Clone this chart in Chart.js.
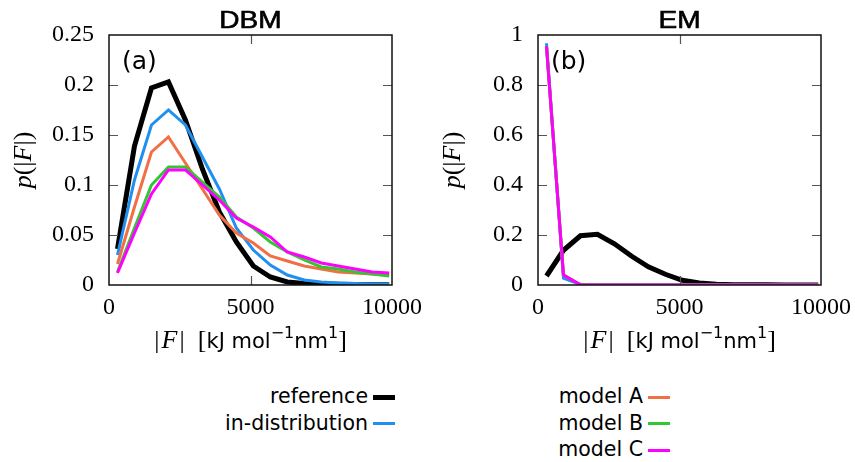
<!DOCTYPE html>
<html>
<head>
<meta charset="utf-8">
<script src="https://cdn.jsdelivr.net/npm/chart.js@4.4.1/dist/chart.umd.min.js"></script>
<style>
  body { margin: 0; width: 855px; height: 462px; background: #fff; position: relative; overflow: hidden; font-family: "DejaVu Sans", sans-serif; }
  canvas { position: absolute; top: 0; }
  #dbm-chart { left: 0; }
  #em-chart { left: 429px; }
  .leg-text { position: absolute; font-size: 20.5px; line-height: 24px; color: #000; white-space: nowrap; text-align: right; }
  .leg-line { position: absolute; }
</style>
</head>
<body>
<canvas id="dbm-chart" width="430" height="365"></canvas>
<canvas id="em-chart" width="426" height="365"></canvas>
<div id="legend"></div>
<script>
// bin centres of the |F| histogram
const binCenters = [300, 900, 1500, 2100, 2700, 3300, 3900, 4500, 5100, 5700, 6300, 6900, 7500, 8100, 8700, 9300, 9900];

const referenceDist = [0.036, 0.139, 0.197, 0.203, 0.165, 0.116, 0.073, 0.043, 0.019, 0.008, 0.003, 0.0015, 0.001, 0.0007, 0.0005, 0.0003, 0.0002];

// DBM panel
const dbmInDistribution = [0.030, 0.105, 0.160, 0.175, 0.160, 0.128, 0.096, 0.057, 0.035, 0.020, 0.010, 0.005, 0.003, 0.002, 0.0015, 0.001, 0.001];
const dbmModelA = [0.021, 0.078, 0.133, 0.148, 0.122, 0.096, 0.070, 0.052, 0.042, 0.029, 0.024, 0.019, 0.016, 0.013, 0.012, 0.011, 0.010];
const dbmModelB = [0.013, 0.057, 0.100, 0.118, 0.118, 0.103, 0.088, 0.068, 0.057, 0.043, 0.033, 0.025, 0.018, 0.016, 0.013, 0.011, 0.009];
const dbmModelC = [0.012, 0.052, 0.091, 0.115, 0.115, 0.100, 0.085, 0.067, 0.058, 0.048, 0.033, 0.028, 0.022, 0.019, 0.016, 0.013, 0.012];

// EM panel
const emInDistribution = [0.967, 0.027, 0.002, 0, 0, 0, 0, 0, 0, 0, 0, 0, 0, 0, 0, 0, 0];
const emModelA = [0.955, 0.040, 0.001, 0, 0, 0, 0, 0, 0, 0, 0, 0, 0, 0, 0, 0, 0];
const emModelB = [0.955, 0.040, 0.001, 0, 0, 0, 0, 0, 0, 0, 0, 0, 0, 0, 0, 0, 0];
const emModelC = [0.955, 0.040, 0.001, 0, 0, 0, 0, 0, 0, 0, 0, 0, 0, 0, 0, 0, 0];

const seriesLabels = ['reference', 'in-distribution', 'model A', 'model B', 'model C'];
const seriesColors = ['#000000', '#2090f0', '#f26e45', '#33c633', '#ff00ff'];
const seriesWidths = [5, 3, 3, 3, 3];

const xTicks = [0, 5000, 10000];
const dbmYTicks = [0, 0.05, 0.1, 0.15, 0.2, 0.25];
const emYTicks = [0, 0.2, 0.4, 0.6, 0.8, 1];

const serif = '"Liberation Serif", serif';
const sans = '"DejaVu Sans", sans-serif';

function drawRuns(ctx, runs, cx, cy) {
  let total = 0;
  runs.forEach((r) => {
    ctx.font = r.font;
    r.w = ctx.measureText(r.text).width;
    total += r.w;
  });
  let x = cx - total / 2;
  ctx.textAlign = 'left';
  ctx.textBaseline = 'alphabetic';
  runs.forEach((r) => {
    ctx.font = r.font;
    ctx.fillText(r.text, x, cy + (r.dy || 0));
    x += r.w;
  });
}

const xTitleRuns = [
  { text: '|\u200a', font: `26px ${serif}` },
  { text: 'F', font: `italic 26px ${serif}` },
  { text: '\u200a|  [', font: `26px ${serif}` },
  { text: 'kJ mol', font: `21px ${sans}` },
  { text: '\u22121', font: `16px ${sans}`, dy: -10 },
  { text: 'nm', font: `21px ${sans}` },
  { text: '1', font: `16px ${sans}`, dy: -10 },
  { text: ']', font: `26px ${serif}` },
];

const yTitleRuns = [
  { text: 'p', font: `italic 26px ${serif}` },
  { text: '(|', font: `26px ${serif}` },
  { text: 'F', font: `italic 26px ${serif}` },
  { text: '|)', font: `26px ${serif}` },
];

// frame with inward mirrored ticks, gnuplot style
const frameTicks = {
  id: 'frameTicks',
  afterDatasetsDraw(chart) {
    const { ctx, chartArea: a, scales } = chart;
    ctx.save();
    ctx.strokeStyle = '#555';
    ctx.lineWidth = 1.2;
    ctx.beginPath();
    scales.y.ticks.forEach((t) => {
      const y = Math.round(scales.y.getPixelForValue(t.value)) + 0.5;
      if (y <= a.top + 2 || y >= a.bottom - 2) return;
      ctx.moveTo(a.left, y); ctx.lineTo(a.left + 9, y);
      ctx.moveTo(a.right, y); ctx.lineTo(a.right - 9, y);
    });
    scales.x.ticks.forEach((t) => {
      const x = Math.round(scales.x.getPixelForValue(t.value)) + 0.5;
      if (x <= a.left + 2 || x >= a.right - 2) return;
      ctx.moveTo(x, a.bottom); ctx.lineTo(x, a.bottom - 9);
      ctx.moveTo(x, a.top); ctx.lineTo(x, a.top + 9);
    });
    ctx.stroke();
    ctx.strokeStyle = '#111';
    ctx.lineWidth = 1.5;
    ctx.strokeRect(a.left, a.top, a.right - a.left, a.bottom - a.top);
    ctx.restore();
  }
};

const panelText = {
  id: 'panelText',
  afterDraw(chart, args, opts) {
    const { ctx, chartArea: a } = chart;
    const cx = (a.left + a.right) / 2;
    ctx.save();
    ctx.fillStyle = '#000';
    ctx.strokeStyle = '#000';

    // panel title, a wide medium-weight sans
    ctx.save();
    ctx.translate(cx, 28);
    ctx.scale(1.22, 1);
    ctx.textAlign = 'center';
    ctx.textBaseline = 'alphabetic';
    ctx.font = `23px "Liberation Sans", sans-serif`;
    ctx.lineWidth = 0.6;
    ctx.fillText(opts.title, 0, 0);
    ctx.strokeText(opts.title, 0, 0);
    ctx.restore();

    ctx.textAlign = 'left';
    ctx.font = `25px ${sans}`;
    ctx.fillText(opts.tag, a.left + 13, a.top + 34);
    drawRuns(ctx, xTitleRuns, cx, 348);
    ctx.translate(31, (a.top + a.bottom) / 2);
    ctx.rotate(-Math.PI / 2);
    drawRuns(ctx, yTitleRuns, 0, 0);
    ctx.restore();
  }
};

function makePanel(canvasId, seriesValues, yMax, yTicks, title, tag, rightPad) {
  const datasets = seriesValues.map((values, i) => ({
    label: seriesLabels[i],
    data: binCenters.map((x, j) => ({ x: x, y: values[j] })),
    borderColor: seriesColors[i],
    borderWidth: seriesWidths[i],
    pointRadius: 0,
    tension: 0,
    fill: false,
    order: seriesValues.length - i,
  }));

  return new Chart(document.getElementById(canvasId), {
    type: 'line',
    data: { datasets: datasets },
    options: {
      responsive: false,
      animation: false,
      devicePixelRatio: 1,
      layout: { padding: { top: 35, right: rightPad, left: 0, bottom: 0 } },
      plugins: {
        legend: { display: false },
        tooltip: { enabled: false },
        panelText: { title: title, tag: tag },
      },
      scales: {
        x: {
          type: 'linear',
          min: 0,
          max: 10000,
          afterBuildTicks: (scale) => { scale.ticks = xTicks.map((v) => ({ value: v })); },
          afterFit: (scale) => { scale.height = 80; scale.paddingLeft = 0; scale.paddingRight = 0; },
          grid: { display: false, drawTicks: false },
          border: { display: false },
          ticks: {
            autoSkip: false,
            maxRotation: 0,
            padding: 8,
            color: '#000',
            font: { family: 'Liberation Serif', size: 24 },
            callback: (v) => String(v),
          },
        },
        y: {
          min: 0,
          max: yMax,
          afterBuildTicks: (scale) => { scale.ticks = yTicks.map((v) => ({ value: v })); },
          afterFit: (scale) => { scale.width = 109; scale.paddingTop = 0; scale.paddingBottom = 0; },
          grid: { display: false, drawTicks: false },
          border: { display: false },
          ticks: {
            autoSkip: false,
            padding: 15,
            color: '#000',
            font: { family: 'Liberation Serif', size: 24 },
            callback: (v) => String(v),
          },
        },
      },
    },
    plugins: [frameTicks, panelText],
  });
}

makePanel('dbm-chart',
  [referenceDist, dbmInDistribution, dbmModelA, dbmModelB, dbmModelC],
  0.25, dbmYTicks, 'DBM', '(a)', 38);
makePanel('em-chart',
  [referenceDist, emInDistribution, emModelA, emModelB, emModelC],
  1, emYTicks, 'EM', '(b)', 34);

// legend: two columns, text to the left of the line sample
const legendColumns = [
  { right: 368, indices: [0, 1] },
  { right: 643, indices: [2, 3, 4] },
];
const legend = document.getElementById('legend');
legendColumns.forEach((col) => {
  col.indices.forEach((idx, row) => {
    const cy = 397 + row * 26.5;
    const label = document.createElement('div');
    label.className = 'leg-text';
    label.textContent = seriesLabels[idx];
    label.style.right = (855 - col.right) + 'px';
    label.style.top = (cy - 13) + 'px';
    legend.appendChild(label);
    const line = document.createElement('div');
    line.className = 'leg-line';
    line.style.left = (col.right + 5) + 'px';
    line.style.width = '22px';
    line.style.height = seriesWidths[idx] + 'px';
    line.style.top = (cy - seriesWidths[idx] / 2) + 'px';
    line.style.background = seriesColors[idx];
    legend.appendChild(line);
  });
});
</script>
</body>
</html>
